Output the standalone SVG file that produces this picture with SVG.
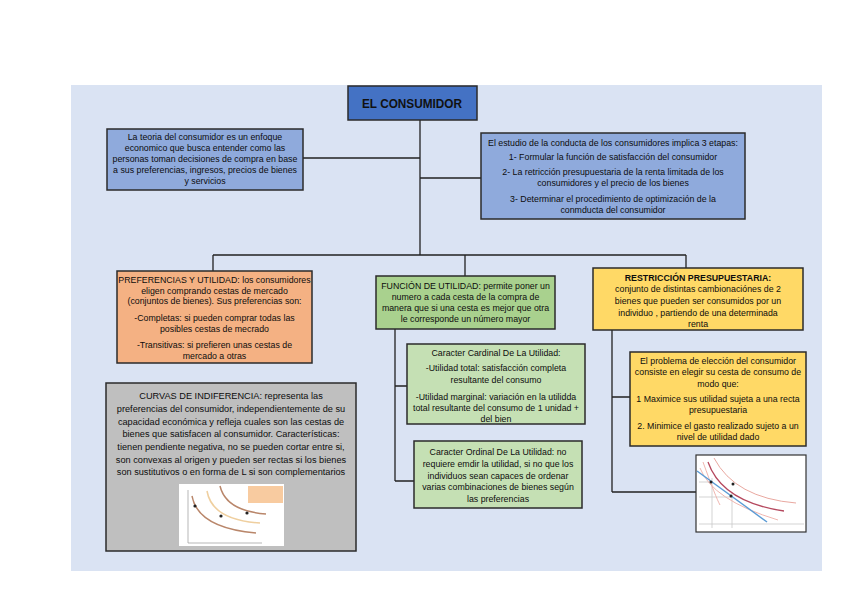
<svg xmlns="http://www.w3.org/2000/svg" width="848" height="599" viewBox="0 0 848 599">
<style>
.box{stroke:#2b2b2b;stroke-width:1.5}
.t{font-family:"Liberation Sans",Arial,sans-serif;font-size:8.8px;fill:#0d0d0d;text-anchor:middle}
.c{font-size:9.2px}
.con{stroke:#222;stroke-width:1.3;fill:none}
</style>
<rect x="0" y="0" width="848" height="599" fill="#ffffff"/>
<rect x="71" y="85" width="751" height="486" fill="#dae3f3"/>

<g id="connectors">
<path class="con" d="M420,120 V255 M303,158 H420 M420,178 H481 M213,255 H686 M213,255 V271 M465,255 V276 M686,255 V268"/>
<path class="con" d="M395,329 V481 M395,386 H407 M395,481 H414"/>
<path class="con" d="M612,330 V492 M612,397 H630 M612,492 H696"/>
</g>

<g id="title">
<rect class="box" x="348" y="86" width="129" height="34" fill="#4472c4"/>
<text x="412" y="108" style="font-family:'Liberation Sans',Arial,sans-serif;font-size:12px;font-weight:bold;fill:#111" text-anchor="middle" textLength="100" lengthAdjust="spacingAndGlyphs">EL CONSUMIDOR</text>
</g>

<g id="teoria">
<rect class="box" x="107" y="129" width="196" height="61" fill="#8faadc"/>
<text class="t" x="205" y="140">La teoria del consumidor es un enfoque</text>
<text class="t" x="205" y="151">economico que busca entender como las</text>
<text class="t" x="205" y="162">personas toman decisiones de compra en base</text>
<text class="t" x="205" y="173">a sus preferencias, ingresos, precios de bienes</text>
<text class="t" x="205" y="184">y servicios</text>
</g>

<g id="estudio">
<rect class="box" x="481" y="133" width="264" height="86" fill="#8faadc"/>
<text class="t" x="613" y="146">El estudio de la conducta de los consumidores implica 3 etapas:</text>
<text class="t" x="613" y="160">1- Formular la función de satisfacción del consumidor</text>
<text class="t" x="613" y="175">2- La retricción presupuestaria de la renta limitada de los</text>
<text class="t" x="613" y="186">consumidores y el precio de los bienes</text>
<text class="t" x="613" y="202">3- Determinar el procedimiento de optimización de la</text>
<text class="t" x="613" y="213">conmducta del consumidor</text>
</g>

<g id="preferencias">
<rect class="box" x="117" y="271" width="195" height="92" fill="#f4b183"/>
<text class="t" x="214.5" y="283">PREFERENCIAS Y UTILIDAD: los consumidores</text>
<text class="t" x="214.5" y="294">eligen comprando cestas de mercado</text>
<text class="t" x="214.5" y="304">(conjuntos de bienes). Sus preferencias son:</text>
<text class="t" x="214.5" y="321">-Completas: si pueden comprar todas las</text>
<text class="t" x="214.5" y="332">posibles cestas de mecrado</text>
<text class="t" x="214.5" y="348">-Transitivas: si prefieren unas cestas de</text>
<text class="t" x="214.5" y="359">mercado a otras</text>
</g>

<g id="funcion">
<rect class="box" x="376" y="276" width="179" height="53" fill="#a9d18e"/>
<text class="t" x="465.5" y="289">FUNCIÓN DE UTILIDAD: permite poner un</text>
<text class="t" x="465.5" y="300">numero a cada cesta de la compra de</text>
<text class="t" x="465.5" y="311">manera que si una cesta es mejor que otra</text>
<text class="t" x="465.5" y="322">le corresponde un número mayor</text>
</g>

<g id="restriccion">
<rect class="box" x="593" y="268" width="210" height="62" fill="#ffd966"/>
<text class="t" x="698" y="281" font-weight="bold">RESTRICCIÓN PRESUPUESTARIA:</text>
<text class="t" x="698" y="292">conjunto de distintas cambionaciónes de 2</text>
<text class="t" x="698" y="304">bienes que pueden ser consumidos por un</text>
<text class="t" x="698" y="316">individuo , partiendo de una determinada</text>
<text class="t" x="698" y="327">renta</text>
</g>

<g id="cardinal">
<rect class="box" x="407" y="344" width="178" height="80" fill="#c5e0b4"/>
<text class="t" x="496" y="356">Caracter Cardinal De La Utilidad:</text>
<text class="t" x="496" y="371">-Utilidad total: satisfacción completa</text>
<text class="t" x="496" y="383">resultante del consumo</text>
<text class="t" x="496" y="400">-Utilidad marginal: variación en la utilidda</text>
<text class="t" x="496" y="411">total resultante del consumo de 1 unidad +</text>
<text class="t" x="496" y="422">del bien</text>
</g>

<g id="ordinal">
<rect class="box" x="414" y="441" width="168" height="67" fill="#c5e0b4"/>
<text class="t" x="498" y="455">Caracter Ordinal De La Utilidad: no</text>
<text class="t" x="498" y="467">requiere emdir la utilidad, si no que los</text>
<text class="t" x="498" y="479">individuos sean capaces de ordenar</text>
<text class="t" x="498" y="490">varias combinaciones de bienes según</text>
<text class="t" x="498" y="502">las preferencias</text>
</g>

<g id="problema">
<rect class="box" x="630" y="352" width="176" height="94" fill="#ffd966"/>
<text class="t" x="718" y="364">El problema de elección del consumidor</text>
<text class="t" x="718" y="375">consiste en elegir su cesta de consumo de</text>
<text class="t" x="718" y="387">modo que:</text>
<text class="t" x="718" y="402">1 Maximice sus utilidad sujeta a una recta</text>
<text class="t" x="718" y="413">presupuestaria</text>
<text class="t" x="718" y="429">2. Minimice el gasto realizado sujeto a un</text>
<text class="t" x="718" y="440">nivel de utilidad dado</text>
</g>

<g id="grafica-restriccion">
<rect x="696" y="455" width="110" height="77" fill="#ffffff" stroke="#333" stroke-width="1.2"/>
<path d="M712,478 V528 M732,492 V528 M699,482 H712 M699,497 H732 M699,524 H804" stroke="#c8c8c8" stroke-width="0.8" fill="none"/>
<path d="M700,468 Q712,500 778,520" stroke="#f0b6b0" stroke-width="1" fill="none"/>
<path d="M703,462 Q716,498 720,505" stroke="#f0b6b0" stroke-width="1" fill="none"/>
<path d="M708,462 Q722,502 784,511" stroke="#b5485e" stroke-width="1.3" fill="none"/>
<path d="M714,458 Q735,498 796,503" stroke="#e9a8a0" stroke-width="1" fill="none"/>
<path d="M697,471 L767,522" stroke="#5b9bd5" stroke-width="1.4" fill="none"/>
<circle cx="711" cy="482" r="1.5" fill="#222"/>
<circle cx="731" cy="496" r="1.5" fill="#222"/>
<circle cx="733" cy="484" r="1.5" fill="#222"/>
</g>

<g id="curvas">
<rect class="box" x="106" y="383" width="250" height="168" fill="#bfbfbf"/>
<text class="t c" x="231" y="399">CURVAS DE INDIFERENCIA: representa las</text>
<text class="t c" x="231" y="412">preferencias del consumidor, independientemente de su</text>
<text class="t c" x="231" y="424.5">capacidad económica y refleja cuales son las cestas de</text>
<text class="t c" x="231" y="437">bienes que satisfacen al consumidor. Características:</text>
<text class="t c" x="231" y="450">tienen pendiente negativa, no se pueden cortar entre si,</text>
<text class="t c" x="231" y="462.5">son convexas al origen y pueden ser rectas si los bienes</text>
<text class="t c" x="231" y="475">son sustitutivos o en forma de L si son complementarios</text>
<rect x="179" y="484" width="105" height="62" fill="#ffffff"/>
<path d="M188,490 V543 H262" stroke="#999" stroke-width="0.7" fill="none"/>
<path d="M192,496 Q198,528 256,533" stroke="#b9866a" stroke-width="1.5" fill="none"/>
<path d="M207,491 Q212,520 260,523" stroke="#efcf9f" stroke-width="1.5" fill="none"/>
<path d="M220,486 Q226,511 266,514" stroke="#b9866a" stroke-width="1.5" fill="none"/>
<circle cx="195" cy="506" r="1.6" fill="#222"/>
<circle cx="221" cy="516" r="1.6" fill="#222"/>
<circle cx="247" cy="513" r="1.6" fill="#222"/>
<rect x="248" y="486" width="35" height="17" fill="#f8cba0"/>
</g>
</svg>
